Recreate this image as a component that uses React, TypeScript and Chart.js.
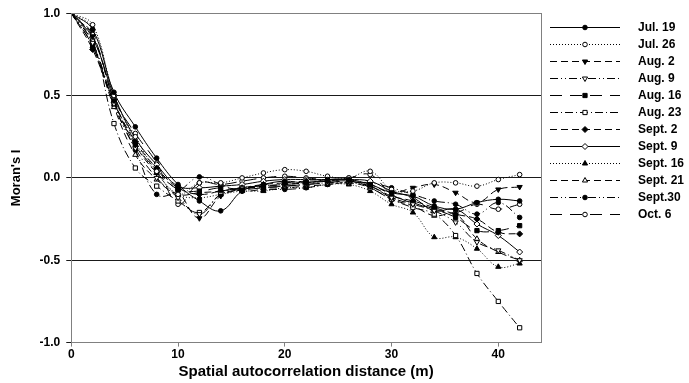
import React, { useEffect, useRef } from 'react';
import { Chart, registerables } from 'chart.js';
import { drawPoint } from 'chart.js/helpers';

Chart.register(...registerables);

// Lag distances (m) at which Moran's I was computed
const distances = [0, 2, 4, 6, 8, 10, 12, 14, 16, 18, 20, 22, 24, 26, 28, 30, 32, 34, 36, 38, 40, 42];

const seriesLabels = ['Jul. 19', 'Jul. 26', 'Aug. 2', 'Aug. 9', 'Aug. 16', 'Aug. 23', 'Sept. 2', 'Sept. 9', 'Sept. 16', 'Sept. 21', 'Sept.30', 'Oct. 6'];

const jul19 = [1, 0.9, 0.52, 0.31, 0.12, -0.04, -0.14, -0.2, -0.08, -0.04, -0.02, -0.03, -0.01, -0.01, -0.04, -0.09, -0.11, -0.17, -0.19, -0.15, -0.13, -0.14];
const jul26 = [1, 0.93, 0.5, 0.25, 0.04, -0.1, -0.03, -0.03, 0.0, 0.03, 0.05, 0.04, 0.01, 0.0, 0.04, -0.07, -0.08, -0.03, -0.03, -0.05, -0.01, 0.02];
const aug2 = [1, 0.86, 0.47, 0.2, 0.03, -0.08, -0.245, -0.11, -0.07, -0.05, -0.04, -0.03, -0.02, -0.02, -0.04, -0.09, -0.06, -0.04, -0.09, -0.15, -0.07, -0.055];
const aug9 = [1, 0.82, 0.45, 0.18, 0.0, -0.12, -0.22, -0.1, -0.06, -0.05, -0.05, -0.04, -0.03, -0.03, -0.05, -0.12, -0.16, -0.2, -0.27, -0.39, -0.44, -0.5];
const aug16 = [1, 0.8, 0.46, 0.2, 0.05, -0.07, -0.08, -0.06, -0.07, -0.06, -0.05, -0.04, -0.03, -0.02, -0.05, -0.12, -0.15, -0.19, -0.24, -0.32, -0.32, -0.29];
const aug23 = [1, 0.83, 0.33, 0.06, -0.05, -0.14, -0.21, -0.1, -0.07, -0.05, -0.04, -0.03, -0.02, -0.01, -0.06, -0.13, -0.18, -0.22, -0.35, -0.58, -0.75, -0.91];
const sept2 = [1, 0.78, 0.46, 0.22, 0.06, -0.06, -0.1, -0.08, -0.06, -0.04, -0.03, -0.02, -0.02, -0.02, -0.05, -0.11, -0.14, -0.18, -0.22, -0.25, -0.33, -0.34];
const sept9 = [1, 0.85, 0.5, 0.24, 0.08, -0.05, -0.06, -0.05, -0.04, -0.02, -0.01, -0.01, -0.01, -0.01, -0.02, -0.08, -0.12, -0.2, -0.19, -0.28, -0.35, -0.45];
const sept16 = [1, 0.91, 0.51, 0.22, 0.03, -0.1, -0.12, -0.1, -0.08, -0.08, -0.06, -0.06, -0.04, -0.04, -0.08, -0.16, -0.21, -0.36, -0.36, -0.43, -0.54, -0.52];
const sept21 = [1, 0.8, 0.43, 0.14, -0.01, -0.1, -0.09, -0.08, -0.06, -0.06, -0.06, -0.05, -0.04, -0.03, -0.06, -0.13, -0.17, -0.23, -0.22, -0.37, -0.45, -0.5];
const sept30 = [1, 0.82, 0.44, 0.17, -0.1, -0.08, 0.006, -0.04, -0.08, -0.07, -0.07, -0.06, -0.04, -0.03, -0.03, -0.06, -0.1, -0.14, -0.16, -0.22, -0.15, -0.24];
const oct6 = [1, 0.87, 0.48, 0.27, 0.09, -0.16, -0.03, -0.04, -0.02, 0.0, 0.01, 0.0, -0.01, 0.0, 0.02, -0.1, -0.15, -0.19, -0.21, -0.16, -0.19, -0.16];

const seriesValues = [jul19, jul26, aug2, aug9, aug16, aug23, sept2, sept9, sept16, sept21, sept30, oct6];

const yTicks = [-1, -0.5, 0, 0.5, 1];
const xTicks = [0, 10, 20, 30, 40];

// Line dash / marker look for each date
const SOLID: number[] = [];
const DOTTED = [1, 2];
const DASHED = [7, 4];
const DASH_DOT = [8, 3, 1, 3];
const DASH_DOT_DOT = [8, 3, 1, 3, 1, 3];
const LONG_GAP = [12, 8];

type Look = { dash: number[]; style: string; filled: boolean; rotation: number; radius: number };
const looks: Look[] = [
  { dash: SOLID, style: 'circle', filled: true, rotation: 0, radius: 2.3 },
  { dash: DOTTED, style: 'circle', filled: false, rotation: 0, radius: 2.3 },
  { dash: DASHED, style: 'triangle', filled: true, rotation: 180, radius: 3 },
  { dash: DASH_DOT_DOT, style: 'triangle', filled: false, rotation: 180, radius: 3 },
  { dash: LONG_GAP, style: 'rect', filled: true, rotation: 0, radius: 3 },
  { dash: DASH_DOT, style: 'rect', filled: false, rotation: 0, radius: 3 },
  { dash: DASHED, style: 'rectRot', filled: true, rotation: 0, radius: 3 },
  { dash: SOLID, style: 'rectRot', filled: false, rotation: 0, radius: 3 },
  { dash: DOTTED, style: 'triangle', filled: true, rotation: 0, radius: 3 },
  { dash: DASHED, style: 'triangle', filled: false, rotation: 0, radius: 3 },
  { dash: DASH_DOT_DOT, style: 'circle', filled: true, rotation: 0, radius: 2.3 },
  { dash: LONG_GAP, style: 'circle', filled: false, rotation: 0, radius: 2.3 },
];

const FONT = 'Arial, "Liberation Sans", sans-serif';

// Boxed plot frame around the chart area
const framePlugin = {
  id: 'frame',
  afterDraw(chart: any) {
    const { ctx, chartArea } = chart;
    ctx.save();
    ctx.strokeStyle = '#808080';
    ctx.lineWidth = 1;
    ctx.setLineDash([]);
    ctx.strokeRect(Math.round(chartArea.left) + 0.5, Math.round(chartArea.top) + 0.5,
      Math.round(chartArea.right - chartArea.left), Math.round(chartArea.bottom - chartArea.top));
    ctx.restore();
  },
};

// Legend with a line sample and its marker centred on it
const sampleLegendPlugin = {
  id: 'sampleLegend',
  afterDraw(chart: any) {
    const { ctx } = chart;
    const x0 = 550;
    const x1 = 620;
    const textX = 638;
    const top = 27;
    const step = 17;
    ctx.save();
    chart.data.datasets.forEach((ds: any, i: number) => {
      const y = top + step * i + 0.5;
      ctx.strokeStyle = '#000';
      ctx.lineWidth = 1;
      ctx.setLineDash(ds.borderDash || []);
      ctx.beginPath();
      ctx.moveTo(x0, y);
      ctx.lineTo(x1, y);
      ctx.stroke();
      ctx.setLineDash([]);
      ctx.fillStyle = ds.pointBackgroundColor;
      ctx.strokeStyle = '#000';
      drawPoint(ctx, { pointStyle: ds.pointStyle, rotation: ds.pointRotation, radius: ds.pointRadius, borderWidth: 1 }, (x0 + x1) / 2, y);
      ctx.fillStyle = '#000';
      ctx.font = `bold 12px ${FONT}`;
      ctx.textAlign = 'left';
      ctx.textBaseline = 'middle';
      ctx.fillText(seriesLabels[i], textX, y);
    });
    ctx.restore();
  },
};

export default function App() {
  const canvasRef = useRef<HTMLCanvasElement | null>(null);

  useEffect(() => {
    if (!canvasRef.current) return;
    const datasets = seriesValues.map((vals, i) => {
      const lk = looks[i];
      return {
        label: seriesLabels[i],
        data: distances.map((d, j) => ({ x: d, y: vals[j] })),
        borderColor: '#000',
        borderWidth: 1,
        borderDash: lk.dash,
        pointStyle: lk.style,
        pointRotation: lk.rotation,
        pointRadius: lk.radius,
        pointBorderWidth: 1,
        pointBorderColor: '#000',
        pointBackgroundColor: lk.filled ? '#000' : '#fff',
        tension: 0.4,
        fill: false,
      };
    });

    const chart = new Chart(canvasRef.current, {
      type: 'line',
      data: { datasets },
      options: {
        animation: false,
        responsive: true,
        maintainAspectRatio: false,
        layout: { padding: { top: 2, right: 148, bottom: 2, left: 9 } },
        plugins: { legend: { display: false }, tooltip: { enabled: false } },
        scales: {
          x: {
            type: 'linear',
            min: 0,
            max: 44,
            afterBuildTicks: (axis: any) => { axis.ticks = xTicks.map((v) => ({ value: v })); },
            ticks: { color: '#000', font: { family: FONT, size: 12, weight: 'bold' }, padding: 1, maxRotation: 0 },
            grid: { drawOnChartArea: false, tickLength: 4, color: '#808080' },
            border: { color: '#808080' },
            title: { display: true, text: 'Spatial autocorrelation distance (m)', color: '#000', font: { family: FONT, size: 15, weight: 'bold' }, padding: { top: 0, bottom: 0 } },
          },
          y: {
            type: 'linear',
            min: -1,
            max: 1,
            afterBuildTicks: (axis: any) => { axis.ticks = yTicks.map((v) => ({ value: v })); },
            ticks: { color: '#000', font: { family: FONT, size: 12, weight: 'bold' }, padding: 6, callback: (v: any) => Number(v).toFixed(1) },
            grid: { color: '#1a1a1a', tickLength: 5 },
            border: { color: '#808080' },
            title: { display: true, text: "Moran's I", color: '#000', font: { family: FONT, size: 13, weight: 'bold' }, padding: { top: 0, bottom: 9 } },
          },
        },
      },
      plugins: [framePlugin, sampleLegendPlugin],
    });
    return () => chart.destroy();
  }, []);

  return (
    <div style={{ position: 'absolute', left: 0, top: 0, width: 689, height: 383, background: '#fff' }}>
      <canvas ref={canvasRef} />
    </div>
  );
}
